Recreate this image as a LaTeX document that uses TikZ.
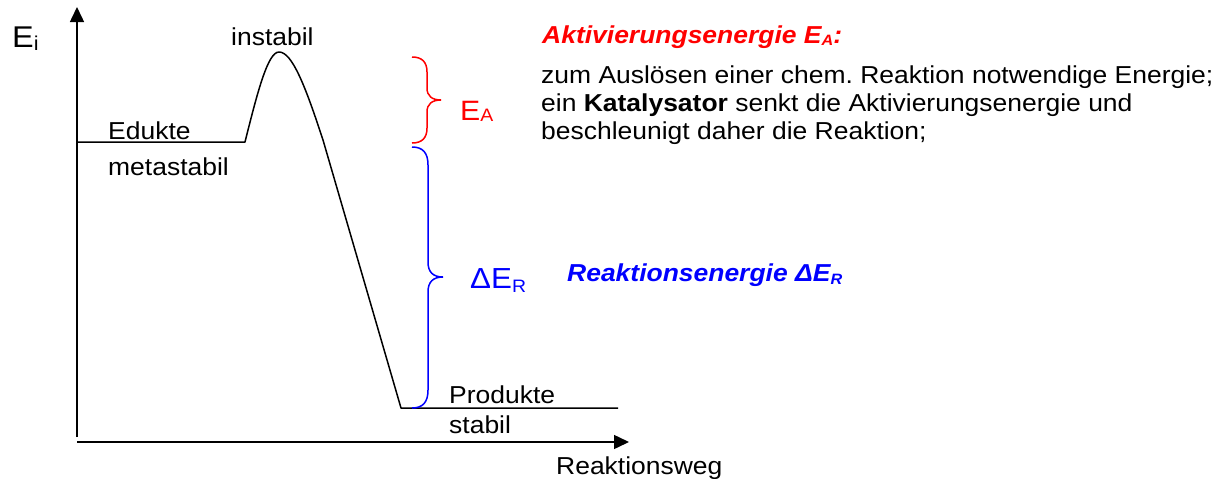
\documentclass[tikz,border=0pt]{standalone}
\usepackage{fontspec}
\setmainfont{Liberation Sans}[FakeStretch=1.08]
\usetikzlibrary{arrows.meta}
\definecolor{myred}{RGB}{255,0,0}
\definecolor{myblue}{RGB}{0,0,255}
\newcommand{\fs}[1]{\fontsize{#1}{#1}\selectfont}
\frenchspacing
\begin{document}
\begin{tikzpicture}[x=1pt,y=-1pt,
  lbl/.style={anchor=base west,inner sep=0pt,font=\fs{24.5}},
  axis/.style={line width=1.5pt,-{Triangle[length=15pt,width=14pt]}},
  curve/.style={line width=1.5pt},
  brace/.style={line width=1.5pt}]
\useasboundingbox (0,0) rectangle (1229,479);
% axes
\coordinate (o) at (77,442);
\coordinate (ytop) at (77,7);
\coordinate (ybot) at (77,437);
\coordinate (xtip) at (629,442);
\draw[axis] (ybot) -- (ytop);
\draw[axis] (o) -- (xtip);
% energy profile
\coordinate (e0) at (77,142);
\coordinate (e1) at (245,142);
\coordinate (pk) at (279,52);
\coordinate (dn) at (323,140);
\coordinate (p0) at (401,408);
\coordinate (p1) at (618,408);
\draw[curve,line join=round] (e0) -- (e1) .. controls (258,90) and (268,52) .. (pk)
  .. controls (292,52) and (305,85) .. (dn) -- (p0) -- (p1);
% red brace
\draw[brace,myred] (412,57) .. controls (422,57) and (427,62) .. (427,72) -- (427,88)
  .. controls (427,96) and (432,100) .. (441,100)
  .. controls (432,100) and (427,104) .. (427,112) -- (427,128)
  .. controls (427,138) and (422,143) .. (412,143);
% blue brace
\draw[brace,myblue] (412,147) .. controls (423,147) and (428,153) .. (428,165) -- (428,262)
  .. controls (428,272) and (433,277) .. (443,277)
  .. controls (433,277) and (428,282) .. (428,292) -- (428,390)
  .. controls (428,402) and (423,408) .. (412,408);
% labels
\node[lbl] (ei) at (12,47) {{\fs{30}E}\raisebox{-3pt}{\fs{20}i}};
\node[lbl] (instabil) at (231,45) {instabil};
\node[lbl] (edukte) at (108,139) {Edukte};
\node[lbl] (meta) at (108,175) {metastabil};
\node[lbl] (produkte) at (449,403) {Produkte};
\node[lbl] (stabil) at (449,433) {stabil};
\node[lbl] (weg) at (556,474) {Reaktionsweg};
\node[lbl,text=myred] (ea) at (460,120) {{\fs{28}E}\raisebox{-1pt}{\fs{18}A}};
\node[lbl,text=myblue] (der) at (470,288) {{\fs{29}ΔE}\raisebox{-4pt}{\fs{18}R}};
\node[lbl,text=myred,font=\fs{24.5}\bfseries\itshape] (title) at (542,43) {Aktivierungsenergie E\raisebox{-2pt}{\fs{15}A}:};
\node[lbl] (l1) at (541,83) {zum Auslösen einer chem. Reaktion notwendige Energie;};
\node[lbl] (l2) at (541,111) {ein \textbf{Katalysator} senkt die Aktivierungsenergie und};
\node[lbl] (l3) at (541,139) {beschleunigt daher die Reaktion;};
\node[lbl,text=myblue,font=\fs{24.5}\bfseries\itshape] (reakt) at (567,281) {Reaktionsenergie ΔE\raisebox{-3pt}{\fs{15}R}};
\end{tikzpicture}
\end{document}
